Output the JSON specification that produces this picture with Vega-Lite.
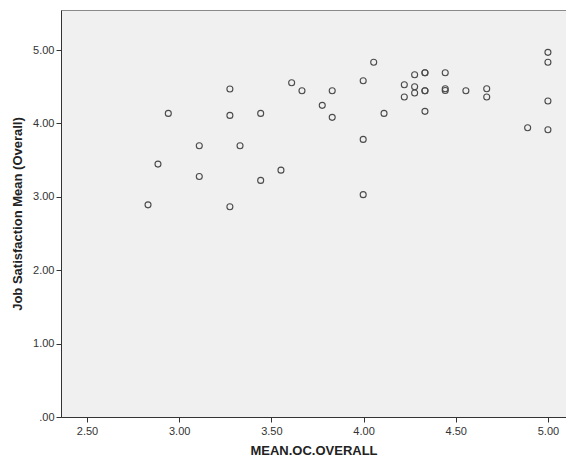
{
  "$schema": "https://vega.github.io/schema/vega-lite/v6.json",
  "width": 505,
  "height": 407,
  "autosize": {"type": "none"},
  "padding": {"left": 61, "top": 10, "right": 0, "bottom": 40},
  "background": "white",
  "config": {
    "view": {"fill": "#F0F0F0", "stroke": "#8a8a8a", "strokeWidth": 1},
    "font": "Liberation Sans"
  },
  "data": {
    "values": [
      {"oc": 2.831, "js": 2.891},
      {"oc": 2.885, "js": 3.446},
      {"oc": 2.941, "js": 4.137},
      {"oc": 3.109, "js": 3.696},
      {"oc": 3.109, "js": 3.278},
      {"oc": 3.275, "js": 4.469},
      {"oc": 3.275, "js": 4.110},
      {"oc": 3.275, "js": 2.864},
      {"oc": 3.330, "js": 3.696},
      {"oc": 3.442, "js": 4.137},
      {"oc": 3.442, "js": 3.224},
      {"oc": 3.552, "js": 3.364},
      {"oc": 3.610, "js": 4.555},
      {"oc": 3.666, "js": 4.446},
      {"oc": 3.776, "js": 4.247},
      {"oc": 3.830, "js": 4.446},
      {"oc": 3.830, "js": 4.083},
      {"oc": 3.998, "js": 4.582},
      {"oc": 3.998, "js": 3.783},
      {"oc": 3.998, "js": 3.030},
      {"oc": 4.055, "js": 4.833},
      {"oc": 4.111, "js": 4.137},
      {"oc": 4.221, "js": 4.528},
      {"oc": 4.221, "js": 4.360},
      {"oc": 4.277, "js": 4.664},
      {"oc": 4.277, "js": 4.500},
      {"oc": 4.277, "js": 4.414},
      {"oc": 4.333, "js": 4.691},
      {"oc": 4.333, "js": 4.691},
      {"oc": 4.333, "js": 4.446},
      {"oc": 4.333, "js": 4.446},
      {"oc": 4.333, "js": 4.165},
      {"oc": 4.443, "js": 4.691},
      {"oc": 4.443, "js": 4.473},
      {"oc": 4.443, "js": 4.450},
      {"oc": 4.555, "js": 4.446},
      {"oc": 4.668, "js": 4.473},
      {"oc": 4.668, "js": 4.360},
      {"oc": 4.890, "js": 3.941},
      {"oc": 5.000, "js": 4.969},
      {"oc": 5.000, "js": 4.833},
      {"oc": 5.000, "js": 4.305},
      {"oc": 5.000, "js": 3.914}
    ]
  },
  "mark": {"type": "point", "shape": "circle", "filled": false, "stroke": "#4a4a4a", "strokeWidth": 1.1, "size": 36, "opacity": 1, "clip": true},
  "encoding": {
    "x": {
      "field": "oc",
      "type": "quantitative",
      "title": "MEAN.OC.OVERALL",
      "scale": {"domain": [2.359, 5.098], "nice": false, "zero": false},
      "axis": {
        "values": [2.5, 3.0, 3.5, 4.0, 4.5, 5.0],
        "format": ".2f",
        "grid": false,
        "domainColor": "#333333",
        "tickColor": "#333333",
        "tickSize": 5,
        "labelFontSize": 11,
        "labelColor": "#333333",
        "labelPadding": 3,
        "titleFontSize": 13,
        "titleFontWeight": "bold",
        "titleColor": "#222222",
        "titlePadding": 8
      }
    },
    "y": {
      "field": "js",
      "type": "quantitative",
      "title": "Job Satisfaction Mean (Overall)",
      "scale": {"domain": [0, 5.546], "nice": false},
      "axis": {
        "values": [0, 1, 2, 3, 4, 5],
        "labelExpr": "datum.value == 0 ? '.00' : format(datum.value, '.2f')",
        "grid": false,
        "domainColor": "#333333",
        "tickColor": "#333333",
        "tickSize": 5,
        "labelFontSize": 11,
        "labelColor": "#333333",
        "labelPadding": 2,
        "titleFontSize": 13,
        "titleFontWeight": "bold",
        "titleColor": "#222222",
        "titlePadding": 8
      }
    }
  }
}
